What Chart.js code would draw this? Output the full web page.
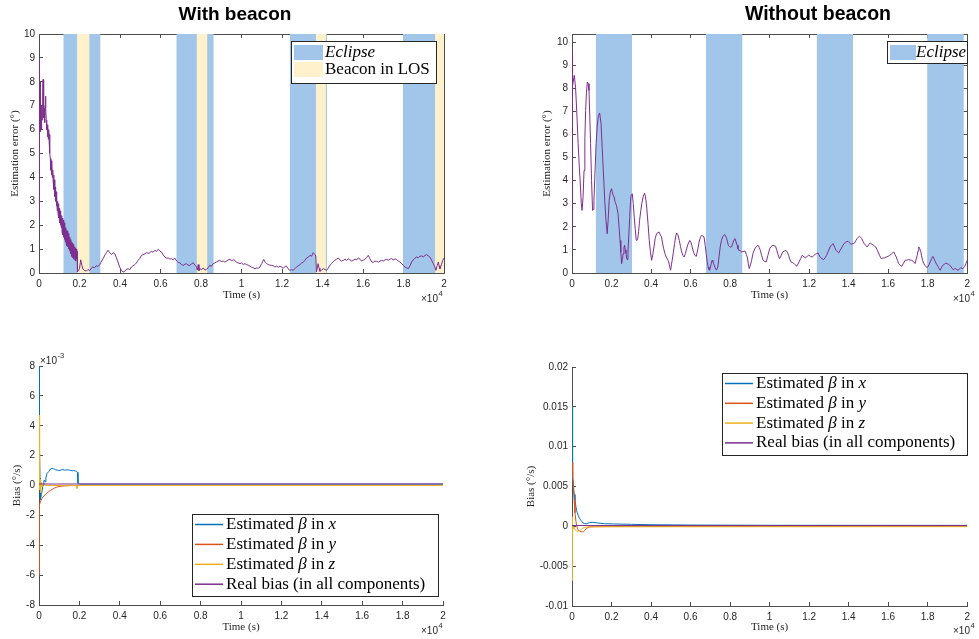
<!DOCTYPE html>
<html>
<head>
<meta charset="utf-8">
<script src="https://cdn.jsdelivr.net/npm/chart.js@4.4.1/dist/chart.umd.min.js"></script>
<style>
  html, body { margin: 0; padding: 0; background: #fff; }
  #wrap { position: relative; width: 979px; height: 639px; }
  #wrap canvas { position: absolute; left: 0; top: 0; }
</style>
</head>
<body>
<div id="wrap">
  <canvas id="c1" width="979" height="639"></canvas>
  <canvas id="c2" width="979" height="639"></canvas>
  <canvas id="c3" width="979" height="639"></canvas>
  <canvas id="c4" width="979" height="639"></canvas>
</div>
<script>
"use strict";

// time axis is in units of 1e4 s (the "x10^4" under each plot)
const xTicks = [0, 0.2, 0.4, 0.6, 0.8, 1, 1.2, 1.4, 1.6, 1.8, 2];

const eclipseStart = [0.12, 0.678, 1.238, 1.797];
const eclipseEnd = [0.304, 0.863, 1.422, 1.983];
const beaconStart = [0.188, 0.778, 1.367, 1.956];
const beaconEnd = [0.25, 0.832, 1.417, 2.0];

// estimation error (deg), [time, value]
const errWithBeacon = [
  [0, 2.3], [0.001, 8.9], [0.002, 6.0], [0.003, 8.6], [0.004, 6.4], [0.005, 8.0], [0.006, 5.9], [0.007, 7.2],
  [0.008, 6.3], [0.010, 6.8], [0.012, 6.0], [0.014, 7.0], [0.016, 6.4], [0.018, 7.6], [0.020, 8.1], [0.022, 7.0],
  [0.024, 6.5], [0.026, 6.9], [0.028, 6.3], [0.030, 7.0], [0.032, 7.4], [0.034, 6.9], [0.036, 6.4], [0.038, 6.0],
  [0.040, 6.2], [0.042, 5.7], [0.044, 6.1], [0.046, 5.6], [0.048, 6.0], [0.050, 5.5], [0.052, 5.8], [0.054, 5.0],
  [0.056, 4.8], [0.058, 4.3], [0.060, 4.7], [0.062, 4.1], [0.064, 4.6], [0.066, 4.0], [0.068, 4.3], [0.070, 3.8],
  [0.072, 4.1], [0.074, 3.5], [0.076, 3.9], [0.078, 3.2], [0.080, 3.6], [0.082, 3.0], [0.084, 3.4], [0.086, 2.8],
  [0.088, 3.2], [0.090, 2.6], [0.092, 3.0], [0.094, 2.5], [0.096, 2.9], [0.098, 2.3], [0.100, 2.7], [0.102, 2.1],
  [0.104, 2.6], [0.106, 2.0], [0.108, 2.5], [0.110, 1.9], [0.112, 2.4], [0.114, 1.7], [0.116, 2.3], [0.118, 1.6],
  [0.120, 2.2], [0.122, 1.5], [0.124, 2.1], [0.126, 1.4], [0.128, 2.0], [0.130, 1.3], [0.132, 1.9], [0.134, 1.25],
  [0.136, 1.8], [0.138, 1.15], [0.140, 1.75], [0.142, 1.1], [0.144, 1.65], [0.146, 1.0], [0.148, 1.55], [0.150, 0.95],
  [0.152, 1.5], [0.154, 0.9], [0.156, 1.4], [0.158, 0.8], [0.160, 1.3], [0.162, 0.7], [0.164, 1.25], [0.166, 0.65],
  [0.168, 1.2], [0.170, 0.6], [0.172, 1.15], [0.174, 0.55], [0.176, 1.1], [0.178, 0.6], [0.180, 1.05], [0.182, 0.5],
  [0.184, 1.0], [0.186, 0.6], [0.188, 0.9], [0.190, 0.05], [0.196, 0.1], [0.200, 0.2], [0.206, 0.55], [0.212, 0.3],
  [0.218, 0.15], [0.226, 0.1], [0.234, 0.08], [0.242, 0.15], [0.250, 0.1], [0.258, 0.2], [0.266, 0.25], [0.274, 0.22],
  [0.282, 0.3], [0.290, 0.28], [0.298, 0.32], [0.306, 0.45], [0.317, 0.6], [0.325, 0.75], [0.333, 0.85], [0.341, 0.95],
  [0.349, 0.85], [0.358, 0.77], [0.366, 0.85], [0.374, 0.81], [0.382, 0.65], [0.390, 0.46], [0.398, 0.25], [0.407, 0.11],
  [0.415, 0.04], [0.423, 0.07], [0.431, 0.15], [0.440, 0.18], [0.448, 0.14], [0.456, 0.25], [0.464, 0.3], [0.473, 0.35],
  [0.481, 0.42], [0.489, 0.53], [0.497, 0.6], [0.506, 0.74], [0.518, 0.78], [0.531, 0.85], [0.543, 0.82], [0.555, 0.91],
  [0.563, 0.87], [0.572, 0.95], [0.580, 0.9], [0.588, 0.99], [0.596, 0.93], [0.605, 0.88], [0.613, 0.76], [0.621, 0.67],
  [0.630, 0.62], [0.638, 0.63], [0.646, 0.58], [0.654, 0.6], [0.662, 0.55], [0.670, 0.63], [0.676, 0.55], [0.682, 0.49],
  [0.690, 0.42], [0.695, 0.43], [0.703, 0.36], [0.712, 0.32], [0.720, 0.36], [0.728, 0.39], [0.736, 0.33], [0.745, 0.32],
  [0.753, 0.38], [0.761, 0.43], [0.770, 0.33], [0.778, 0.25], [0.782, 0.12], [0.786, 0.35], [0.790, 0.1], [0.794, 0.18],
  [0.802, 0.14], [0.811, 0.21], [0.819, 0.12], [0.827, 0.15], [0.835, 0.22], [0.843, 0.32], [0.851, 0.28], [0.860, 0.39],
  [0.868, 0.42], [0.876, 0.46], [0.884, 0.5], [0.893, 0.53], [0.901, 0.48], [0.910, 0.5], [0.918, 0.46], [0.926, 0.5],
  [0.935, 0.55], [0.943, 0.57], [0.951, 0.52], [0.959, 0.55], [0.967, 0.53], [0.975, 0.45], [0.984, 0.42], [0.992, 0.39],
  [1.000, 0.42], [1.008, 0.36], [1.017, 0.39], [1.025, 0.35], [1.033, 0.33], [1.041, 0.29], [1.050, 0.24], [1.058, 0.22],
  [1.066, 0.18], [1.074, 0.21], [1.083, 0.2], [1.091, 0.25], [1.100, 0.4], [1.110, 0.57], [1.117, 0.45], [1.124, 0.39],
  [1.132, 0.36], [1.140, 0.33], [1.148, 0.32], [1.157, 0.3], [1.165, 0.25], [1.173, 0.29], [1.181, 0.24], [1.190, 0.28],
  [1.198, 0.25], [1.206, 0.2], [1.214, 0.27], [1.222, 0.29], [1.230, 0.18], [1.239, 0.11], [1.247, 0.14], [1.256, 0.12],
  [1.264, 0.18], [1.272, 0.26], [1.280, 0.3], [1.288, 0.35], [1.297, 0.42], [1.305, 0.45], [1.313, 0.53], [1.321, 0.62],
  [1.330, 0.66], [1.338, 0.74], [1.346, 0.7], [1.354, 0.85], [1.362, 0.78], [1.367, 0.71], [1.370, 0.04], [1.374, 0.2],
  [1.378, 0.39], [1.383, 0.2], [1.387, 0.07], [1.395, 0.12], [1.404, 0.18], [1.412, 0.15], [1.420, 0.11], [1.428, 0.2],
  [1.437, 0.32], [1.445, 0.4], [1.453, 0.48], [1.461, 0.53], [1.470, 0.58], [1.478, 0.63], [1.486, 0.55], [1.494, 0.5],
  [1.503, 0.53], [1.511, 0.58], [1.519, 0.52], [1.527, 0.6], [1.535, 0.55], [1.544, 0.5], [1.552, 0.53], [1.560, 0.58],
  [1.569, 0.55], [1.577, 0.63], [1.585, 0.58], [1.593, 0.5], [1.601, 0.53], [1.610, 0.58], [1.618, 0.65], [1.626, 0.74],
  [1.634, 0.6], [1.643, 0.46], [1.651, 0.45], [1.659, 0.5], [1.667, 0.49], [1.676, 0.45], [1.684, 0.5], [1.692, 0.53],
  [1.700, 0.5], [1.709, 0.55], [1.717, 0.57], [1.725, 0.53], [1.733, 0.58], [1.741, 0.6], [1.750, 0.55], [1.758, 0.59],
  [1.766, 0.57], [1.774, 0.5], [1.782, 0.46], [1.791, 0.39], [1.799, 0.32], [1.807, 0.25], [1.815, 0.22], [1.824, 0.18],
  [1.832, 0.3], [1.840, 0.46], [1.848, 0.55], [1.857, 0.62], [1.865, 0.67], [1.873, 0.64], [1.881, 0.7], [1.890, 0.71],
  [1.898, 0.68], [1.906, 0.73], [1.914, 0.77], [1.922, 0.72], [1.930, 0.67], [1.938, 0.55], [1.947, 0.39], [1.953, 0.3],
  [1.960, 0.11], [1.966, 0.3], [1.972, 0.46], [1.976, 0.3], [1.980, 0.18], [1.987, 0.35], [1.994, 0.53], [2.000, 0.63]
];

const errNoBeacon = [
  [0, 1.2], [0.0005, 9.6], [0.003, 8.05], [0.0114, 8.56], [0.018, 8.05], [0.025, 6.8], [0.031, 5.6], [0.037, 4.6],
  [0.043, 3.72], [0.047, 3.0], [0.051, 2.71], [0.056, 3.3], [0.061, 4.44], [0.065, 5.8], [0.069, 7.04], [0.073, 7.8],
  [0.0775, 8.27], [0.082, 8.2], [0.086, 7.9], [0.090, 6.8], [0.094, 5.6], [0.099, 4.0], [0.104, 2.71], [0.108, 2.75],
  [0.111, 3.15], [0.116, 4.3], [0.122, 5.6], [0.128, 6.4], [0.134, 6.83], [0.140, 6.93], [0.147, 6.46], [0.153, 5.4],
  [0.160, 4.16], [0.166, 3.1], [0.172, 2.28], [0.178, 1.70], [0.183, 2.3], [0.188, 3.15], [0.194, 3.5], [0.200, 3.65],
  [0.207, 3.4], [0.213, 3.29], [0.219, 3.05], [0.225, 2.93], [0.233, 2.57], [0.238, 2.0], [0.243, 1.41], [0.247, 0.9],
  [0.251, 0.4], [0.255, 0.6], [0.259, 0.84], [0.263, 1.1], [0.266, 1.2], [0.270, 1.0], [0.273, 0.84], [0.276, 0.65],
  [0.279, 0.58], [0.283, 0.9], [0.287, 1.56], [0.292, 2.4], [0.296, 3.1], [0.299, 3.36], [0.305, 3.43], [0.310, 3.0],
  [0.315, 2.42], [0.320, 1.9], [0.325, 1.41], [0.332, 1.44], [0.337, 1.8], [0.342, 2.28], [0.348, 2.7], [0.353, 3.0],
  [0.360, 3.3], [0.367, 3.46], [0.372, 3.3], [0.378, 2.86], [0.385, 2.1], [0.391, 1.41], [0.397, 0.9], [0.403, 0.55],
  [0.409, 0.8], [0.415, 1.13], [0.421, 1.5], [0.428, 1.70], [0.435, 1.75], [0.441, 1.77], [0.447, 1.65], [0.453, 1.56],
  [0.458, 1.3], [0.464, 1.05], [0.470, 0.85], [0.477, 0.69], [0.483, 0.6], [0.489, 0.48], [0.494, 0.3], [0.499, 0.12],
  [0.503, 0.35], [0.507, 0.55], [0.513, 0.9], [0.519, 1.27], [0.525, 1.6], [0.530, 1.73], [0.536, 1.65], [0.543, 1.41],
  [0.549, 1.15], [0.555, 0.91], [0.562, 0.75], [0.568, 0.69], [0.574, 0.85], [0.580, 1.05], [0.587, 1.25], [0.596, 1.41],
  [0.601, 1.35], [0.606, 1.2], [0.612, 1.0], [0.618, 0.84], [0.624, 0.75], [0.629, 0.72], [0.636, 1.0], [0.643, 1.34],
  [0.650, 1.55], [0.656, 1.63], [0.662, 1.6], [0.668, 1.56], [0.674, 1.2], [0.679, 0.84], [0.684, 0.5], [0.689, 0.26],
  [0.693, 0.15], [0.697, 0.12], [0.703, 0.35], [0.709, 0.55], [0.713, 0.5], [0.717, 0.4], [0.723, 0.25], [0.729, 0.14],
  [0.733, 0.18], [0.738, 0.26], [0.744, 0.7], [0.750, 1.13], [0.756, 1.4], [0.762, 1.56], [0.767, 1.62], [0.772, 1.67],
  [0.777, 1.6], [0.783, 1.49], [0.787, 1.35], [0.791, 1.2], [0.796, 1.15], [0.802, 1.12], [0.808, 1.13], [0.812, 1.25],
  [0.816, 1.34], [0.820, 1.45], [0.825, 1.49], [0.830, 1.35], [0.836, 1.2], [0.840, 1.05], [0.844, 0.98], [0.851, 0.98],
  [0.858, 0.91], [0.866, 0.93], [0.876, 0.95], [0.882, 0.8], [0.887, 0.69], [0.892, 0.4], [0.897, 0.19], [0.903, 0.35],
  [0.909, 0.55], [0.916, 0.85], [0.925, 1.05], [0.933, 1.15], [0.942, 1.2], [0.948, 1.1], [0.953, 0.98], [0.960, 0.75],
  [0.967, 0.55], [0.975, 0.5], [0.983, 0.48], [0.991, 0.75], [1.000, 1.05], [1.008, 1.15], [1.016, 1.2], [1.023, 1.18],
  [1.030, 1.16], [1.036, 1.0], [1.041, 0.84], [1.050, 0.62], [1.058, 0.75], [1.066, 0.91], [1.075, 0.95], [1.083, 0.98],
  [1.090, 0.9], [1.096, 0.77], [1.102, 0.6], [1.108, 0.48], [1.116, 0.45], [1.124, 0.41], [1.131, 0.35], [1.137, 0.29],
  [1.143, 0.38], [1.149, 0.48], [1.157, 0.62], [1.165, 0.77], [1.174, 0.7], [1.182, 0.66], [1.190, 0.72], [1.198, 0.77],
  [1.207, 0.72], [1.215, 0.69], [1.223, 0.75], [1.231, 0.81], [1.238, 0.84], [1.245, 0.87], [1.250, 0.78], [1.256, 0.69],
  [1.265, 0.62], [1.273, 0.58], [1.281, 0.66], [1.289, 0.77], [1.297, 0.95], [1.306, 1.13], [1.314, 1.22], [1.322, 1.27],
  [1.329, 1.12], [1.336, 0.98], [1.343, 0.92], [1.350, 0.87], [1.358, 1.0], [1.367, 1.13], [1.375, 1.25], [1.384, 1.34],
  [1.390, 1.36], [1.397, 1.37], [1.405, 1.3], [1.413, 1.24], [1.421, 1.27], [1.430, 1.3], [1.436, 1.4], [1.443, 1.49],
  [1.449, 1.55], [1.455, 1.59], [1.461, 1.55], [1.466, 1.49], [1.472, 1.38], [1.479, 1.27], [1.486, 1.2], [1.493, 1.13],
  [1.501, 1.22], [1.509, 1.3], [1.517, 1.25], [1.526, 1.2], [1.531, 1.16], [1.537, 1.13], [1.543, 1.02], [1.549, 0.91],
  [1.557, 0.75], [1.565, 0.62], [1.573, 0.64], [1.582, 0.66], [1.590, 0.69], [1.599, 0.72], [1.607, 0.76], [1.615, 0.81],
  [1.621, 0.86], [1.628, 0.91], [1.635, 0.8], [1.641, 0.69], [1.647, 0.55], [1.653, 0.41], [1.661, 0.33], [1.669, 0.29],
  [1.677, 0.42], [1.686, 0.55], [1.694, 0.56], [1.703, 0.58], [1.711, 0.56], [1.719, 0.55], [1.727, 0.5], [1.736, 0.41],
  [1.742, 0.6], [1.747, 0.77], [1.751, 0.95], [1.755, 1.13], [1.760, 1.05], [1.764, 0.98], [1.769, 0.75], [1.774, 0.55],
  [1.780, 0.42], [1.785, 0.33], [1.791, 0.28], [1.798, 0.23], [1.806, 0.35], [1.813, 0.48], [1.820, 0.62], [1.826, 0.72],
  [1.833, 0.6], [1.839, 0.48], [1.845, 0.38], [1.851, 0.29], [1.857, 0.2], [1.863, 0.12], [1.869, 0.22], [1.876, 0.33],
  [1.884, 0.38], [1.892, 0.43], [1.899, 0.4], [1.906, 0.38], [1.911, 0.33], [1.917, 0.29], [1.923, 0.2], [1.929, 0.15],
  [1.936, 0.18], [1.942, 0.19], [1.948, 0.14], [1.955, 0.12], [1.961, 0.18], [1.967, 0.23], [1.973, 0.2], [1.978, 0.19],
  [1.983, 0.24], [1.988, 0.29], [1.994, 0.42], [2.000, 0.55]
];

// bias with beacon, in units of 1e-3 deg/s
const biasXBeacon = [
  [0, 4.6], [0.001, 8.0], [0.003, 3.0], [0.005, 0.5], [0.007, -0.97], [0.012, -0.6], [0.016, -0.3], [0.020, 0.03],
  [0.024, 0.3], [0.027, 0.37], [0.030, 0.25], [0.034, 0.5], [0.040, 0.81], [0.048, 0.93], [0.056, 1.1], [0.065, 1.15],
  [0.071, 1.12], [0.076, 1.1], [0.083, 1.05], [0.089, 1.04], [0.097, 1.0], [0.106, 1.02], [0.113, 1.06], [0.119, 1.06],
  [0.125, 1.03], [0.130, 1.02], [0.138, 1.05], [0.147, 1.04], [0.155, 1.01], [0.164, 0.99], [0.172, 1.0], [0.180, 0.97],
  [0.186, 0.95], [0.190, 0.88], [0.193, 0.15], [0.200, 0.1], [2.0, 0.1]
];
const biasYBeacon = [
  [0, -6.0], [0.002, -1.3], [0.008, -1.05], [0.015, -0.86], [0.024, -0.7], [0.032, -0.59], [0.040, -0.5], [0.048, -0.41],
  [0.056, -0.33], [0.065, -0.26], [0.075, -0.18], [0.089, -0.1], [0.105, -0.06], [0.122, -0.03], [0.155, -0.01],
  [0.200, 0.0], [2.0, 0.0]
];
const biasZBeacon = [
  [0, 4.7], [0.002, 0.5], [0.004, -0.3], [0.006, 0.4], [0.008, -0.5], [0.011, 0.2], [0.014, -0.1], [0.020, 0.05],
  [0.040, 0.0], [0.185, 0.0], [0.188, -0.2], [0.192, 0.0], [2.0, 0.0]
];
const biasRealBeacon = [[0, 0.1], [2.0, 0.1]];

// bias without beacon, deg/s
const biasXNoBeacon = [
  [0, 0.015], [0.001, 0.0108], [0.003, 0.0083], [0.005, 0.0065], [0.008, 0.0049], [0.011, 0.0040], [0.015, 0.0033],
  [0.019, 0.0026], [0.023, 0.0020], [0.027, 0.0017], [0.031, 0.0014], [0.038, 0.001], [0.045, 0.00075], [0.050, 0.0006],
  [0.056, 0.00042], [0.064, 0.00035], [0.073, 0.00033], [0.081, 0.0004], [0.089, 0.00046], [0.106, 0.0005],
  [0.130, 0.00042], [0.164, 0.00033], [0.210, 0.0003], [0.300, 0.00025], [0.400, 0.0002], [0.600, 0.00016],
  [1.0, 0.00013], [2.0, 0.00012]
];
const biasYNoBeacon = [
  [0, 0.008], [0.002, 0.0075], [0.005, 0.0062], [0.008, 0.0045], [0.011, 0.0033], [0.015, 0.0017], [0.019, 0.0008],
  [0.023, 0.00013], [0.027, -0.0002], [0.031, -0.00042], [0.038, -0.0006], [0.045, -0.00067], [0.052, -0.0007],
  [0.058, -0.00068], [0.065, -0.0005], [0.073, -0.00029], [0.081, -0.00015], [0.089, -0.00008], [0.110, -0.00005],
  [0.200, -0.00003], [2.0, -0.00002]
];
const biasZNoBeacon = [
  [0, -0.0068], [0.001, -0.002], [0.002, 0.0012], [0.004, 0.0002], [0.006, -0.0001], [0.010, -0.0003], [0.015, -0.00042],
  [0.021, -0.00055], [0.028, -0.00062], [0.034, -0.0006], [0.040, -0.0005], [0.048, -0.00035], [0.056, -0.00021],
  [0.065, -0.00012], [0.080, -0.00008], [0.120, -0.00005], [2.0, -0.00004]
];
const biasRealNoBeacon = [[0, 0.0001], [2.0, 0.0001]];

const W = 979, H = 639;
const SANS = "'Liberation Sans', Arial, sans-serif";
const SERIF = "'Liberation Serif', 'DejaVu Serif', serif";
const AXIS = "#4d4d4d";
const TICK_TXT = "#262626";
const PURPLE = "#7E2F8E", BLUE = "#0072BD", ORANGE = "#D95319", YELLOW = "#EDB120";
const ECLIPSE = "#a1c6e9", BEACON = "#fff1cb";
const LBL_SIZE = 11;

function fmt(v) {
  return String(parseFloat(Number(v).toFixed(4)));
}

function toPts(pairs) {
  return pairs.map(p => ({ x: p[0], y: p[1] }));
}

// later series are drawn on top, like matlab's hold on
function lineSet(label, pairs, color, order) {
  return {
    label: label, data: toPts(pairs), borderColor: color, backgroundColor: color,
    borderWidth: 1, pointRadius: 0, fill: false, tension: 0, order: order, legendRow: true
  };
}

function bandSets(label, starts, ends, top, color, order) {
  return starts.map((s, i) => ({
    label: label,
    data: [{ x: s, y: top }, { x: ends[i], y: top }],
    borderColor: "rgba(0,0,0,0)", borderWidth: 0, pointRadius: 0,
    fill: "origin", backgroundColor: color, order: order, legendRow: i === 0
  }));
}

function drawRich(ctx, text, x, y, size) {
  const parts = text.split("_");
  ctx.textBaseline = "middle";
  ctx.textAlign = "left";
  ctx.fillStyle = "#000";
  parts.forEach((p, i) => {
    ctx.font = (i % 2 ? "italic " : "") + size + "px " + SERIF;
    ctx.fillText(p, x, y);
    x += ctx.measureText(p).width;
  });
}

// framed legend + panel title + x10^n multipliers
const panelDecor = {
  id: "panelDecor",
  afterDraw(chart, args, o) {
    const ctx = chart.ctx;
    ctx.save();
    if (o.title) {
      ctx.font = "bold " + o.title.size + "px " + SANS;
      ctx.fillStyle = "#000";
      ctx.textAlign = "center";
      ctx.textBaseline = "middle";
      ctx.fillText(o.title.text, o.title.x, o.title.y);
    }
    (o.mult || []).forEach(m => {
      ctx.fillStyle = TICK_TXT;
      ctx.textAlign = "left";
      ctx.textBaseline = "middle";
      ctx.font = "10px " + SANS;
      ctx.fillText("\u00d710", m.x, m.y);
      const w = ctx.measureText("\u00d710").width;
      ctx.font = "7.5px " + SANS;
      ctx.fillText(m.sup, m.x + w + 0.5, m.y - 5);
    });
    if (o.legend) {
      const L = o.legend;
      const rows = chart.data.datasets.filter(d => d.legendRow);
      ctx.fillStyle = "#fff";
      ctx.fillRect(L.l, L.t, L.r - L.l, L.b - L.t);
      ctx.strokeStyle = "#262626";
      ctx.lineWidth = 1;
      ctx.strokeRect(L.l + 0.5, L.t + 0.5, L.r - L.l, L.b - L.t);
      rows.forEach((d, i) => {
        const cy = L.t + L.first + i * L.step;
        if (d.fill) {
          ctx.fillStyle = d.backgroundColor;
          ctx.fillRect(L.sx0, cy - L.sh / 2, L.sx1 - L.sx0, L.sh);
        } else {
          ctx.strokeStyle = d.borderColor;
          ctx.lineWidth = 1.5;
          ctx.beginPath();
          ctx.moveTo(L.sx0, cy);
          ctx.lineTo(L.sx1, cy);
          ctx.stroke();
        }
        drawRich(ctx, d.label, L.tx, cy, L.size);
      });
    }
    ctx.restore();
  }
};

function makePanel(id, area, yCfg, datasets, decor) {
  const lh = LBL_SIZE * 1.2;
  const yW = area.l - (area.yLabelX - lh / 2);
  const xH = area.xLabelY + lh / 2 - area.b;
  const tickGrid = { drawOnChartArea: false, tickLength: -4, color: AXIS };
  const scales = {
    x: {
      type: "linear", position: "bottom", min: 0, max: 2,
      afterBuildTicks: s => { s.ticks = xTicks.map(v => ({ value: v })); },
      ticks: { autoSkip: false, maxRotation: 0, padding: 9, color: TICK_TXT, font: { family: SANS, size: 10 }, callback: v => fmt(v) },
      grid: tickGrid,
      border: { color: AXIS },
      title: { display: true, text: "Time (s)", color: "#262626", padding: 0, font: { family: SERIF, size: LBL_SIZE } },
      afterFit: s => { s.height = xH; }
    },
    y: {
      type: "linear", position: "left", min: yCfg.min, max: yCfg.max,
      afterBuildTicks: s => { s.ticks = yCfg.ticks.map(v => ({ value: v })); },
      ticks: { autoSkip: false, padding: 8, color: TICK_TXT, font: { family: SANS, size: 10 }, callback: v => fmt(v) },
      grid: tickGrid,
      border: { color: AXIS },
      title: { display: true, text: yCfg.label, color: "#262626", padding: 0, font: { family: SERIF, size: LBL_SIZE } },
      afterFit: s => { s.width = yW; }
    }
  };
  if (yCfg.box) {
    scales.x2 = {
      type: "linear", position: "top", min: 0, max: 2,
      afterBuildTicks: s => { s.ticks = xTicks.map(v => ({ value: v })); },
      ticks: { display: false }, grid: tickGrid, border: { color: AXIS },
      afterFit: s => { s.height = 0; }
    };
    scales.y2 = {
      type: "linear", position: "right", min: yCfg.min, max: yCfg.max,
      afterBuildTicks: s => { s.ticks = yCfg.ticks.map(v => ({ value: v })); },
      ticks: { display: false }, grid: tickGrid, border: { color: AXIS },
      afterFit: s => { s.width = 0; }
    };
  }
  return new Chart(document.getElementById(id), {
    type: "line",
    data: { datasets: datasets },
    plugins: [panelDecor],
    options: {
      responsive: false,
      animation: false,
      events: [],
      parsing: false,
      layout: { padding: { left: area.l - yW, right: W - area.r, top: area.t, bottom: H - area.b - xH } },
      scales: scales,
      plugins: { legend: { display: false }, tooltip: { enabled: false }, panelDecor: decor }
    }
  });
}

// top left: with beacon
makePanel("c1",
  { l: 39, r: 444, t: 34, b: 273, yLabelX: 15, xLabelY: 295 },
  { min: 0, max: 10, ticks: [0, 1, 2, 3, 4, 5, 6, 7, 8, 9, 10], label: "Estimation error (\u00b0)", box: true },
  [Object.assign(lineSet("error", errWithBeacon, PURPLE, 0), { legendRow: false })]
    .concat(bandSets("_Eclipse_", eclipseStart, eclipseEnd, 10, ECLIPSE, 2))
    .concat(bandSets("Beacon in LOS", beaconStart, beaconEnd, 10, BEACON, 1)),
  {
    title: { text: "With beacon", x: 235, y: 15, size: 19 },
    mult: [{ x: 421, y: 299, sup: "4" }],
    legend: { l: 291, t: 41, r: 436, b: 83, first: 11.5, step: 17, sh: 15, sx0: 294, sx1: 323, tx: 325, size: 17 }
  });

// top right: without beacon
makePanel("c2",
  { l: 572, r: 975, t: 34, b: 273, yLabelX: 547, xLabelY: 295 },
  { min: 0, max: 10.35, ticks: [0, 1, 2, 3, 4, 5, 6, 7, 8, 9, 10], label: "Estimation error (\u00b0)", box: true },
  [Object.assign(lineSet("error", errNoBeacon, PURPLE, 0), { legendRow: false })]
    .concat(bandSets("_Eclipse_", eclipseStart, eclipseEnd, 10.35, ECLIPSE, 2)),
  {
    title: { text: "Without beacon", x: 818, y: 15, size: 19.5 },
    mult: [{ x: 953, y: 299, sup: "4" }],
    legend: { l: 887, t: 41, r: 967, b: 63, first: 11.5, step: 17, sh: 15, sx0: 890, sx1: 916, tx: 916, size: 17 }
  });

// bottom left: bias with beacon (1e-3 deg/s)
makePanel("c3",
  { l: 39, r: 443, t: 366, b: 605, yLabelX: 17, xLabelY: 627 },
  { min: -8, max: 8, ticks: [-8, -6, -4, -2, 0, 2, 4, 6, 8], label: "Bias (\u00b0/s)", box: false },
  [
    lineSet("Estimated _\u03b2_ in _x_", biasXBeacon, BLUE, 3),
    lineSet("Estimated _\u03b2_ in _y_", biasYBeacon, ORANGE, 2),
    lineSet("Estimated _\u03b2_ in _z_", biasZBeacon, YELLOW, 1),
    lineSet("Real bias (in all components)", biasRealBeacon, PURPLE, 0)
  ],
  {
    mult: [{ x: 40, y: 361, sup: "-3" }, { x: 421, y: 631, sup: "4" }],
    legend: { l: 192, t: 514, r: 438, b: 596, first: 10.5, step: 19.9, sh: 1, sx0: 195, sx1: 223, tx: 226, size: 17 }
  });

// bottom right: bias without beacon (deg/s)
makePanel("c4",
  { l: 572, r: 975, t: 367, b: 606, yLabelX: 531, xLabelY: 627 },
  { min: -0.01, max: 0.02, ticks: [-0.01, -0.005, 0, 0.005, 0.01, 0.015, 0.02], label: "Bias (\u00b0/s)", box: false },
  [
    lineSet("Estimated _\u03b2_ in _x_", biasXNoBeacon, BLUE, 3),
    lineSet("Estimated _\u03b2_ in _y_", biasYNoBeacon, ORANGE, 2),
    lineSet("Estimated _\u03b2_ in _z_", biasZNoBeacon, YELLOW, 1),
    lineSet("Real bias (in all components)", biasRealNoBeacon, PURPLE, 0)
  ],
  {
    mult: [{ x: 953, y: 631, sup: "4" }],
    legend: { l: 722, t: 373, r: 967, b: 455, first: 10.5, step: 19.8, sh: 1, sx0: 725, sx1: 753, tx: 756, size: 17 }
  });
</script>
</body>
</html>
